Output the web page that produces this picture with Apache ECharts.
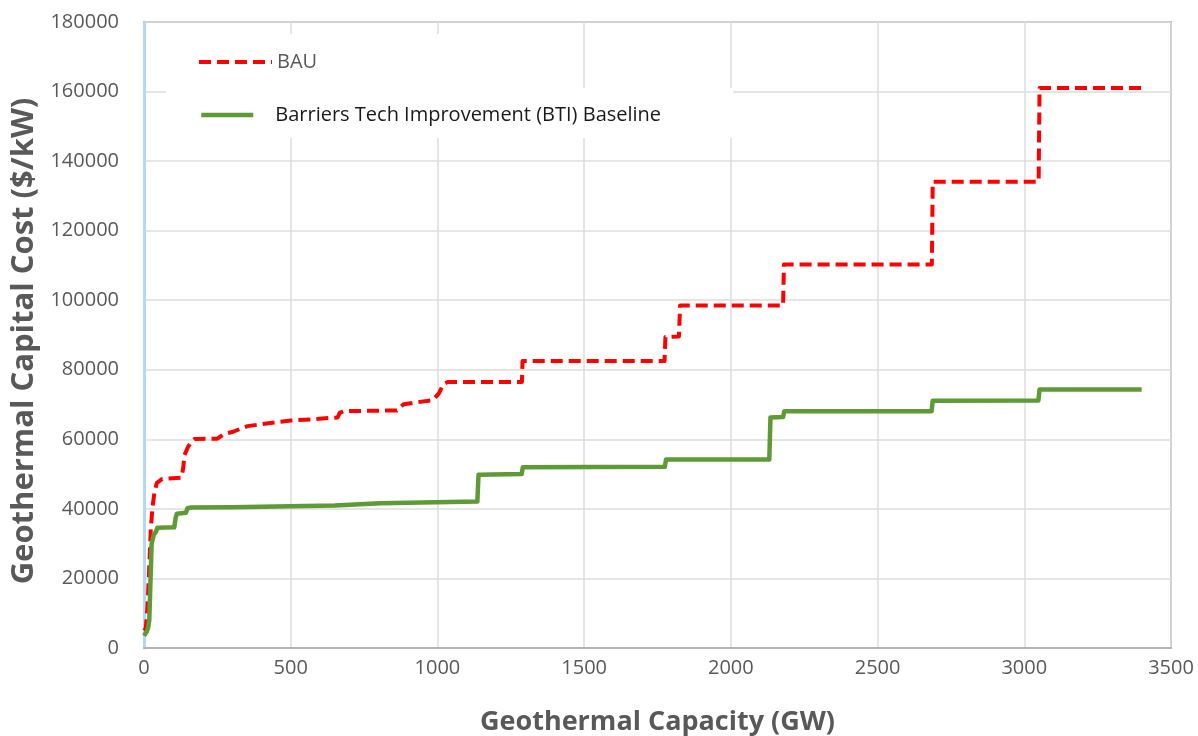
<!DOCTYPE html>
<html>
<head>
<meta charset="utf-8">
<script src="https://cdn.jsdelivr.net/npm/echarts@6/dist/echarts.min.js"></script>
<style>html,body{margin:0;padding:0;background:#fff;}#chart{width:1198px;height:736px;}</style>
</head>
<body>
<div id="chart"></div>
<script>
const xTitle = 'Geothermal Capacity (GW)';
const yTitle = 'Geothermal Capital Cost ($/kW)';
const seriesNames = ['BAU', 'Barriers Tech Improvement (BTI) Baseline'];

const bauCapacity = [0, 6, 12, 17, 23, 29, 36, 44, 62, 128, 134, 138, 150, 162, 172, 250, 272, 300, 353, 430, 500, 580, 660, 667, 680, 862, 885, 985, 1005, 1020, 1035, 1288, 1290, 1774, 1777, 1823, 1827, 2178, 2181, 2685, 2688, 3049, 3052, 3400];
const bauCost = [5000, 5600, 12000, 21500, 34000, 40500, 45000, 47500, 48600, 49000, 52000, 55500, 57800, 59300, 60100, 60200, 61500, 62100, 63800, 64700, 65400, 65800, 66300, 67600, 68100, 68300, 70100, 71300, 73200, 75800, 76500, 76500, 82500, 82500, 89400, 89600, 98500, 98500, 110300, 110300, 134100, 134100, 161000, 161000];

const btiCapacity = [0, 8, 14, 18, 22, 26, 33, 40, 46, 103, 108, 112, 143, 148, 160, 300, 450, 650, 805, 809, 1136, 1140, 1287, 1291, 1775, 1779, 2131, 2135, 2178, 2182, 2684, 2688, 3048, 3052, 3400];
const btiCost = [3500, 4500, 5800, 8000, 19000, 30000, 32500, 33300, 34600, 34700, 37500, 38600, 38900, 40200, 40400, 40500, 40700, 41000, 41600, 42100, 42100, 49800, 50000, 52000, 52100, 54200, 54200, 66300, 66400, 68100, 68100, 71100, 71200, 74300, 74300];

const pairs = (xs, ys) => xs.map((x, i) => [x, ys[i]]);

const FONT = '"Open Sans", "Noto Sans", sans-serif';
const plain = v => String(v);
const RED = '#ff0000';
const GREEN = '#5e9a36';
const DASH = [12, 6];
const chart = echarts.init(document.getElementById('chart'), null, {renderer: 'canvas'});
chart.setOption({
  animation: false,
  backgroundColor: '#ffffff',
  textStyle: {fontFamily: FONT},
  grid: {
    left: 144, right: 27, top: 22, bottom: 88,
    outerBoundsMode: 'none', containLabel: false,
    show: true, borderColor: '#b4b4b4', borderWidth: 2, backgroundColor: 'transparent'
  },
  graphic: [
    {type: 'rect', z: 3, shape: {x: 166, y: 34, width: 330, height: 54}, style: {fill: '#ffffff'}},
    {type: 'rect', z: 3, shape: {x: 166, y: 88, width: 567, height: 50}, style: {fill: '#ffffff'}}
  ],
  legend: [
    {
      data: [seriesNames[0]], left: 197, top: 52, padding: 0, itemWidth: 73, itemHeight: 22,
      itemStyle: {opacity: 0},
      lineStyle: {width: 4, type: DASH, color: RED},
      textStyle: {fontFamily: FONT, fontSize: 20, color: '#595959'}, z: 5
    },
    {
      data: [seriesNames[1]], left: 199, top: 105, padding: 0, itemWidth: 52, itemHeight: 22,
      itemStyle: {opacity: 0},
      lineStyle: {width: 4.5, color: GREEN},
      textStyle: {fontFamily: FONT, fontSize: 20, color: '#1a1a1a', padding: [0, 0, 0, 17]}, z: 5
    }
  ],
  xAxis: {
    type: 'value', min: 0, max: 3500, interval: 500,
    name: xTitle, nameLocation: 'middle', nameGap: 61,
    nameTextStyle: {fontFamily: FONT, fontSize: 27, fontWeight: 'bold', color: '#595959'},
    axisLine: {show: true, lineStyle: {color: '#b4b4b4', width: 2}},
    axisTick: {show: false},
    axisLabel: {fontFamily: FONT, fontSize: 20, color: '#595959', margin: 10, formatter: plain},
    splitLine: {show: true, lineStyle: {color: '#dcdcdc', width: 1.5}}
  },
  yAxis: {
    type: 'value', min: 0, max: 180000, interval: 20000,
    name: yTitle, nameLocation: 'middle', nameGap: 103, nameRotate: 90,
    nameTextStyle: {fontFamily: FONT, fontSize: 31, fontWeight: 'bold', color: '#595959', padding: [0, 12, 0, 0]},
    axisLine: {show: true, onZero: false, lineStyle: {color: '#b3d7f2', width: 3}},
    axisTick: {show: false},
    axisLabel: {fontFamily: FONT, fontSize: 20, color: '#595959', margin: 25, formatter: plain},
    splitLine: {show: true, lineStyle: {color: '#dcdcdc', width: 1.5}}
  },
  series: [
    {
      name: seriesNames[0], type: 'line', data: pairs(bauCapacity, bauCost),
      symbol: 'none', showSymbol: false, z: 2,
      lineStyle: {color: RED, width: 4, type: DASH, join: 'round'},
      itemStyle: {color: RED}
    },
    {
      name: seriesNames[1], type: 'line', data: pairs(btiCapacity, btiCost),
      symbol: 'none', showSymbol: false, z: 2,
      lineStyle: {color: GREEN, width: 4.5, join: 'round'},
      itemStyle: {color: GREEN}
    }
  ]
});
</script>
</body>
</html>
